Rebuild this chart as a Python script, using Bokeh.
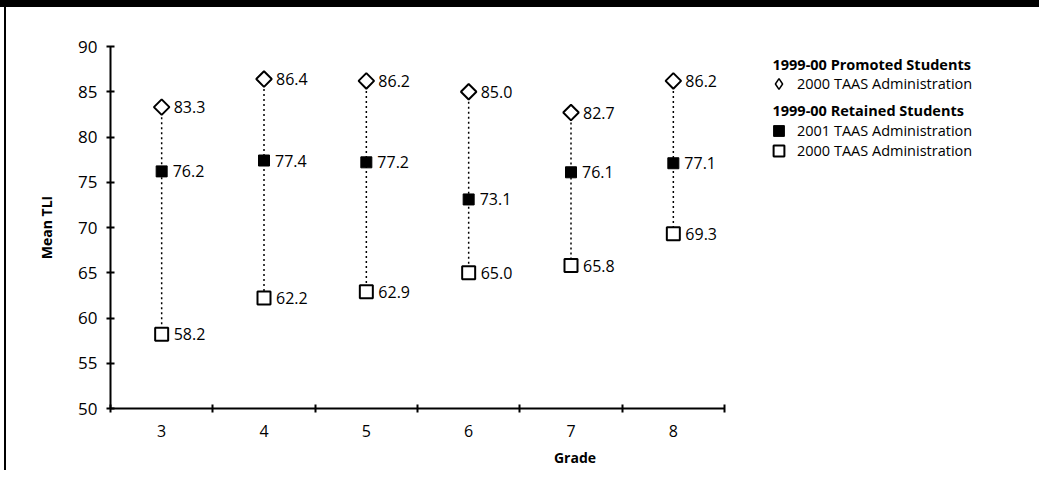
from bokeh.plotting import figure
from bokeh.models import FixedTicker, Legend, LegendItem, Range1d, Div, Label
from bokeh.layouts import column, row
from bokeh.core.properties import value
from bokeh.embed import file_html
from bokeh.resources import INLINE

grades = [3, 4, 5, 6, 7, 8]
promoted_2000 = [83.3, 86.4, 86.2, 85.0, 82.7, 86.2]
retained_2001 = [76.2, 77.4, 77.2, 73.1, 76.1, 77.1]
retained_2000 = [58.2, 62.2, 62.9, 65.0, 65.8, 69.3]
y_ticks = [50, 55, 60, 65, 70, 75, 80, 85, 90]
grade_bounds = [2.5, 3.5, 4.5, 5.5, 6.5, 7.5, 8.5]

FONT = "Open Sans"
TOTAL_W, TOTAL_H = 1039, 470
BAR_H = 7
LINE_X, LINE_W = 4, 2
OX, OY = LINE_X + LINE_W, BAR_H  # figure origin in page
W, H = TOTAL_W - OX, TOTAL_H - OY
PL, PT, PR, PB = 110, 46, 724, 408  # frame edges in page pixels
FL, FT, FR, FB = PL - OX, PT - OY, PR - OX, PB - OY

# x range extends past the axis so the legends (drawn in the frame) are visible
x_lo, x_hi = grade_bounds[0], grade_bounds[-1]
x_end = x_lo + (x_hi - x_lo) * (W - FL) / (FR - FL)

p = figure(width=W, height=H, output_backend="svg", toolbar_location=None,
           x_range=Range1d(x_lo, x_end), y_range=Range1d(50, 90),
           min_border_left=FL, min_border_top=FT,
           min_border_right=0, min_border_bottom=H - FB)
p.outline_line_color = None
p.xgrid.grid_line_color = None
p.ygrid.grid_line_color = None
p.background_fill_color = "white"
p.border_fill_color = "white"

# dotted connectors
p.segment(x0=grades, y0=promoted_2000, x1=grades, y1=retained_2000,
          line_color="black", line_width=1.5, line_dash="2 3")

# diamond used for the legend swatch (hidden under the data markers)
r_leg_diam = p.scatter(x=grades, y=promoted_2000, marker="diamond", size=11,
                       fill_color="white", line_color="black", line_width=1.5)

# markers
r_prom = p.scatter(x=grades, y=promoted_2000, marker="square", angle=0.785398,
                   size=11, fill_color="white", line_color="black", line_width=2)
r_ret01 = p.scatter(x=grades, y=retained_2001, marker="square", size=11,
                    fill_color="black", line_color="black", line_width=1)
r_ret00 = p.scatter(x=grades, y=retained_2000, marker="square", size=13,
                    fill_color="white", line_color="black", line_width=2)

# value labels
for vals, off in [(promoted_2000, 12), (retained_2001, 11), (retained_2000, 12)]:
    p.text(x=grades, y=vals, text=[f"{v:.1f}" for v in vals], x_offset=off,
           text_baseline="middle", text_align="left",
           text_font=value(FONT), text_font_size="16px", text_color="black")

# axes
xa = p.xaxis[0]
xa.bounds = (x_lo, x_hi)
xa.ticker = FixedTicker(ticks=grades, minor_ticks=grade_bounds)
xa.major_tick_in = 0
xa.major_tick_out = 0
xa.minor_tick_in = 4
xa.minor_tick_out = 4
xa.minor_tick_line_width = 2
xa.minor_tick_line_color = "black"
xa.axis_line_width = 2
xa.axis_line_color = "black"
xa.major_label_text_font = FONT
xa.major_label_text_font_size = "16px"
xa.major_label_text_color = "black"
xa.major_label_standoff = 12
xa.axis_label = "Grade"
xa.axis_label_text_font = FONT
xa.axis_label_text_font_style = "bold"
xa.axis_label_text_font_size = "14px"
xa.axis_label_text_color = "black"
xa.axis_label_standoff = 8

ya = p.yaxis[0]
ya.ticker = FixedTicker(ticks=y_ticks, minor_ticks=[])
ya.major_tick_in = 4
ya.major_tick_out = 4
ya.major_tick_line_width = 2
ya.major_tick_line_color = "black"
ya.minor_tick_line_color = None
ya.axis_line_width = 2
ya.axis_line_color = "black"
ya.major_label_text_font = FONT
ya.major_label_text_font_size = "17px"
ya.major_label_text_color = "black"
ya.major_label_standoff = 9
ya.axis_label = "Mean TLI"
ya.axis_label_text_font = FONT
ya.axis_label_text_font_style = "bold"
ya.axis_label_text_font_size = "14px"
ya.axis_label_text_color = "black"
ya.axis_label_standoff = 19

# legend: group headings + one swatch legend per row
LEG_GLYPH = 27
LEG_LEFT = 765  # page x of swatch box left edge
LEG_FONT = "14.5px"


def heading(text, page_y):
    p.add_layout(Label(x=772 - PL, y=PB - page_y, x_units="screen", y_units="screen",
                       text=text, text_font=FONT, text_font_style="bold",
                       text_font_size=LEG_FONT, text_color="black",
                       text_baseline="middle", text_align="left"))


def swatch(label, renderer, page_cy):
    lg = Legend(items=[LegendItem(label=label, renderers=[renderer])],
                location=(LEG_LEFT - PL, PB - (page_cy + LEG_GLYPH / 2)),
                label_text_font=FONT, label_text_font_size=LEG_FONT,
                label_text_color="black",
                label_standoff=5, glyph_width=LEG_GLYPH, glyph_height=LEG_GLYPH,
                spacing=0, padding=0, margin=0,
                border_line_color=None, background_fill_alpha=0)
    p.add_layout(lg, "center")


heading("1999-00 Promoted Students", 64)
swatch("2000 TAAS Administration", r_leg_diam, 83)
heading("1999-00 Retained Students", 110)
swatch("2001 TAAS Administration", r_ret01, 130)
swatch("2000 TAAS Administration", r_ret00, 150)

top_bar = Div(text="", width=TOTAL_W, height=BAR_H, margin=0,
              styles={"background-color": "black"})
left_line = Div(text="", width=LINE_W, height=H, margin=(0, 0, 0, LINE_X),
                styles={"background-color": "black"})
layout = column(top_bar, row(left_line, p, spacing=0), spacing=0)

open("out.html", "w").write(file_html(layout, INLINE))
